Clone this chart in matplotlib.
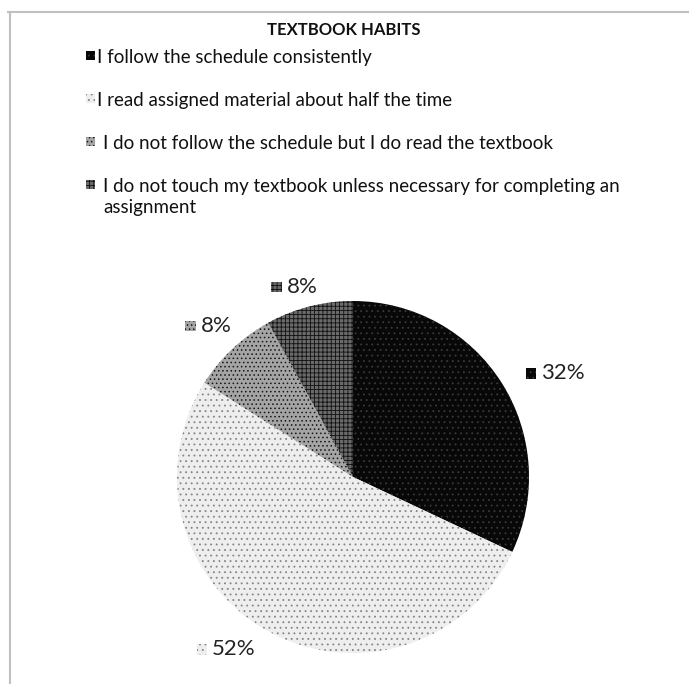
import matplotlib
matplotlib.use("Agg")
import matplotlib.pyplot as plt
from matplotlib.patches import Rectangle
from matplotlib.lines import Line2D
import numpy as np

title = "TEXTBOOK HABITS"
categories = [
    "I follow the schedule consistently",
    "I read assigned material about half the time",
    "I do not follow the schedule but I do read the textbook",
    "I do not touch my textbook unless necessary for completing an\nassignment",
]
values = [32, 52, 8, 8]
pct_labels = ["32%", "52%", "8%", "8%"]

faces = ["#080808", "#eeeeee", "#a4a4a4", "#6a6a6a"]
hatch_colors = ["#3a3a3a", "#858585", "#161616", "#111111"]
hatches = ["...", "...", "....", "++++"]
label_dist = [1.33, 1.19, 1.16, 1.12]
label_shift = [-6, -6, -1, 0.6]   # degrees

plt.rcParams["font.family"] = ["Lato", "DejaVu Sans"]
plt.rcParams["hatch.linewidth"] = 0.6

W, H = 689, 684
fig = plt.figure(figsize=(W / 100, H / 100), dpi=100)
fig.patch.set_facecolor("white")

# frame lines (top and left)
fig.add_artist(Line2D([8 / W, 1], [1 - 12 / H, 1 - 12 / H], color="#c0c0c0", lw=1.5))
fig.add_artist(Line2D([10 / W, 10 / W], [0, 1 - 12 / H], color="#c0c0c0", lw=1.5))

fig.text(344 / W, 1 - 35 / H, title, ha="center", va="baseline",
         fontsize=12, fontweight="bold", color="#111")

# legend
leg_base = [63, 106, 149, 192]
leg_text_x = [97, 97, 103, 103]
for i, (lab, y) in enumerate(zip(categories, leg_base)):
    r = Rectangle((86 / W, 1 - (y - 3) / H), 9 / W, 9.5 / H, transform=fig.transFigure,
                  facecolor=faces[i], edgecolor=hatch_colors[i], hatch=hatches[i], lw=0)
    fig.add_artist(r)
    first, *rest = lab.split("\n")
    fig.text(leg_text_x[i] / W, 1 - y / H, first, ha="left", va="baseline",
             fontsize=13.5, color="#111")
    for k, line in enumerate(rest):
        fig.text(leg_text_x[i] / W, 1 - (y + 21 * (k + 1)) / H, line, ha="left",
                 va="baseline", fontsize=13.5, color="#111")

# pie
cx, cy, R = 353, 477, 176
ax = fig.add_axes([(cx - R) / W, (H - cy - R) / H, 2 * R / W, 2 * R / H])
wedges, _ = ax.pie(values, startangle=90, counterclock=False, radius=1,
                   wedgeprops=dict(linewidth=0))
for i, w in enumerate(wedges):
    w.set_facecolor(faces[i])
    w.set_edgecolor(hatch_colors[i])
    w.set_hatch(hatches[i])
    w.set_linewidth(0)
    ang = np.deg2rad((w.theta1 + w.theta2) / 2 + label_shift[i])
    x, y = label_dist[i] * np.cos(ang), label_dist[i] * np.sin(ang)
    ax.text(x, y, pct_labels[i], ha="center", va="center",
            fontsize=16, color="#222")
    half = 0.035 * len(pct_labels[i])
    ax.add_patch(Rectangle((x - half - 0.045 - 0.06, y - 0.032), 0.06, 0.06,
                           facecolor=faces[i], edgecolor=hatch_colors[i],
                           hatch=hatches[i], lw=0, clip_on=False))
ax.set_xlim(-1, 1)
ax.set_ylim(-1, 1)
ax.set_aspect("equal")
ax.axis("off")

fig.savefig("out.png", dpi=100, facecolor="white")
